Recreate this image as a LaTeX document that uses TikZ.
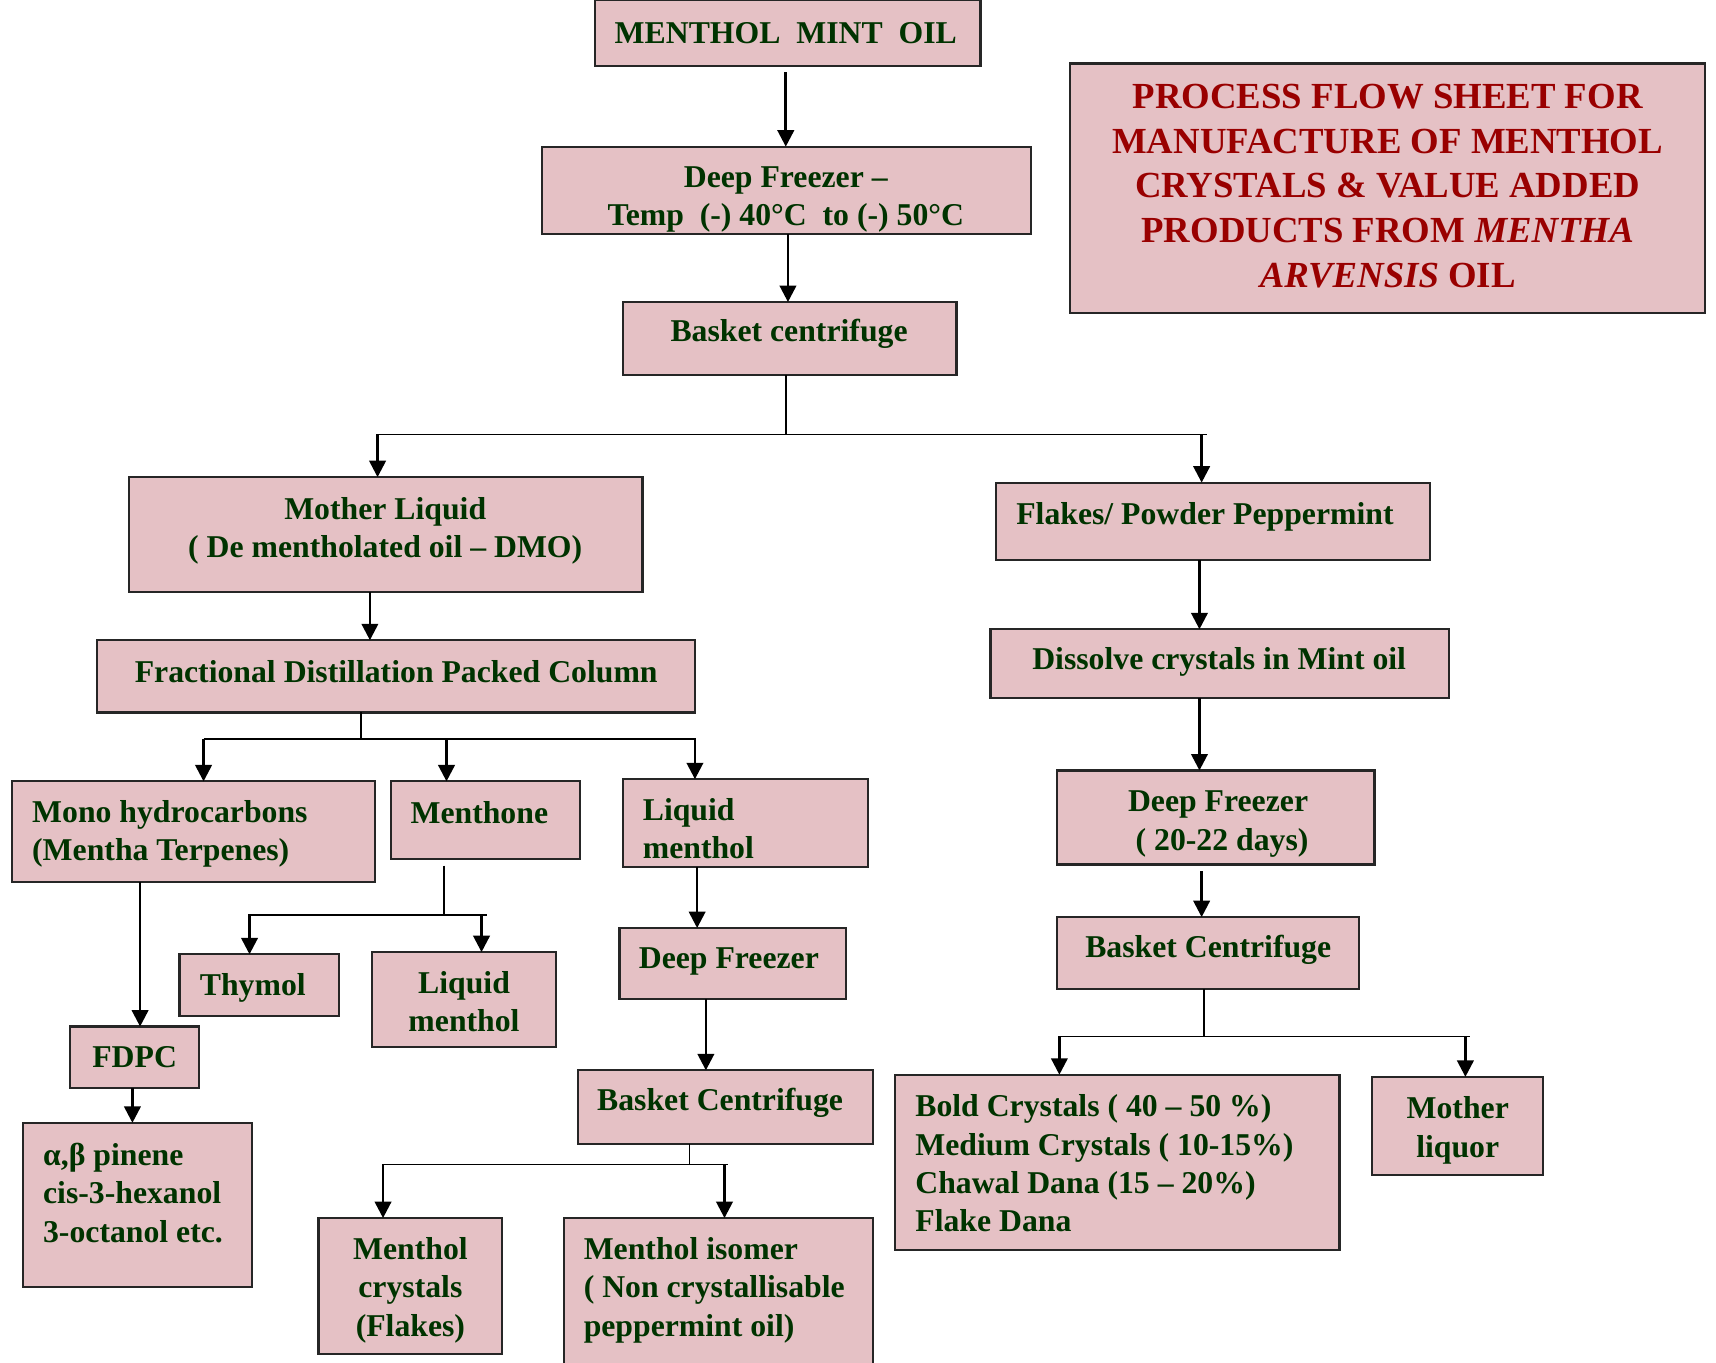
\documentclass[tikz,border=0pt]{standalone}
\usepackage{fontspec}
\setmainfont{Liberation Serif}
\usetikzlibrary{arrows.meta,fit}
\definecolor{boxpink}{RGB}{229,193,197}
\definecolor{leafgreen}{RGB}{0,51,0}
\definecolor{titlered}{RGB}{153,0,0}
\tikzset{
  box/.style={draw=black!85, line width=1pt, fill=boxpink, inner sep=0pt, outer sep=0pt},
  tx/.style={text=leafgreen, font=\bfseries\fontsize{14.5}{17.5}\selectfont, inner sep=0pt, align=center},
  txl/.style={tx, align=left, anchor=west},
  ttl/.style={text=titlered, font=\bfseries\fontsize{16.8}{20.5}\selectfont, inner sep=0pt, align=center},
  arr/.style={line width=1.2pt, -{Triangle[length=7.5pt,width=7.5pt]}},
  bus/.style={line width=0.8pt},
}
\begin{document}
\begin{tikzpicture}[x=0.5pt,y=-0.5pt]
\useasboundingbox (0,0) rectangle (1568,1245);

% ---- boxes ----
\node[box, fit={(544,0) (896,60)}]        (oil) {};
\node[box, fit={(495,134) (942,214)}]     (df1) {};
\node[box, fit={(569,276) (874,343)}]     (bc1) {};
\node[box, fit={(978,58) (1558,286)}]     (title) {};
\node[box, fit={(118,436) (587,541)}]     (mother) {};
\node[box, fit={(910,441) (1307,512)}]    (flakes) {};
\node[box, fit={(89,585) (635,651)}]      (frac) {};
\node[box, fit={(905,575) (1324,638)}]    (dissolve) {};
\node[box, fit={(11,714) (343,806)}]      (mono) {};
\node[box, fit={(357,714) (530,785)}]     (menthone) {};
\node[box, fit={(569,712) (793,792)}]     (liqm2) {};
\node[box, fit={(966,704) (1256,790)}]    (df3) {};
\node[box, fit={(164,872) (310,928)}]     (thymol) {};
\node[box, fit={(340,870) (508,957)}]     (liqm1) {};
\node[box, fit={(566,848) (773,913)}]     (df2) {};
\node[box, fit={(966,838) (1242,904)}]    (bc3) {};
\node[box, fit={(64,938) (182,994)}]      (fdpc) {};
\node[box, fit={(528,978) (798,1045)}]    (bc2) {};
\node[box, fit={(21,1026) (230,1176)}]    (pinene) {};
\node[box, fit={(818,982) (1224,1142)}]   (bold) {};
\node[box, fit={(1254,984) (1410,1074)}]  (liquor) {};
\node[box, fit={(291,1113) (459,1237)}]   (mcryst) {};
\node[box, fit={(515,1113) (798,1262)}]   (misomer) {};

% ---- texts ----
\node[tx] (oil-t) at (718,30) {MENTHOL~ MINT~ OIL};
\node[tx] (df1-t) at (718,182) {Deep Freezer –\\Temp~ (-) 40°C~ to (-) 50°C};
\node[tx] (bc1-t) at (721,305) {Basket centrifuge};
\node[ttl] (title-t) at (1268,170) {PROCESS FLOW SHEET FOR\\MANUFACTURE OF MENTHOL\\CRYSTALS \& VALUE ADDED\\PRODUCTS FROM \textit{MENTHA}\\\textit{ARVENSIS} OIL};
\node[tx] (mother-t) at (352,485) {Mother Liquid\\( De mentholated oil – DMO)};
\node[tx] (flakes-t) at (1101,472) {Flakes/ Powder Peppermint};
\node[tx] (frac-t) at (362,614) {Fractional Distillation Packed Column};
\node[tx] (dissolve-t) at (1114,605) {Dissolve crystals in Mint oil};
\node[txl] (mono-t) at (29,762) {Mono hydrocarbons\\(Mentha Terpenes)};
\node[tx] (menthone-t) at (438,743) {Menthone};
\node[txl] (liqm2-t) at (587,757) {Liquid\\menthol};
\node[tx] (df3-t) at (1113,753) {Deep Freezer\\~( 20-22 days)};
\node[tx] (thymol-t) at (231,903) {Thymol};
\node[tx] (liqm1-t) at (424,915) {Liquid\\menthol};
\node[tx] (df2-t) at (666,879) {Deep Freezer};
\node[tx] (bc3-t) at (1104,868) {Basket Centrifuge};
\node[tx] (fdpc-t) at (123,966) {FDPC};
\node[tx] (bc2-t) at (658,1008) {Basket Centrifuge};
\node[txl] (pinene-t) at (39,1090) {α,β pinene\\cis-3-hexanol\\3-octanol etc.};
\node[txl] (bold-t) at (836,1063) {Bold Crystals ( 40 – 50 \%)\\Medium Crystals ( 10-15\%)\\Chawal Dana (15 – 20\%)\\Flake Dana};
\node[tx] (liquor-t) at (1332,1033) {Mother\\liquor};
\node[tx] (mcryst-t) at (375,1179) {Menthol\\crystals\\(Flakes)};
\node[txl] (misomer-t) at (533,1179) {Menthol isomer\\( Non crystallisable\\peppermint oil)};

% ---- main line ----
\draw[arr, shorten <=3pt] (718,0 |- oil.south) -- (718,0 |- df1.north);
\draw[arr] (720,0 |- df1.south) -- (720,0 |- bc1.north);

% split after the first centrifuge
\coordinate (j1)  at (718,397);
\coordinate (j1l) at (345,397);
\coordinate (j1r) at (1103,397);
\coordinate (j1b) at (1098,397);
\draw[bus] (j1 |- bc1.south) -- (j1);
\draw[bus] (j1l) -- (j1r);
\draw[arr] (j1l) -- (j1l |- mother.north);
\draw[arr] (j1b) -- (j1b |- flakes.north);

% ---- left branch ----
\draw[arr] (338,0 |- mother.south) -- (338,0 |- frac.north);
\coordinate (j2)  at (330,675);
\coordinate (j2l) at (186,675);
\coordinate (j2m) at (408,675);
\coordinate (j2r) at (636,675);
\coordinate (j2c) at (635,675);
\draw[bus] (j2 |- frac.south) -- (j2);
\draw[bus] (j2l) -- (j2r);
\draw[arr] (j2l) -- (j2l |- mono.north);
\draw[arr] (j2m) -- (j2m |- menthone.north);
\draw[arr] (j2c) -- (j2c |- liqm2.north);

% menthone products
\coordinate (j3)  at (406,836);
\coordinate (j3l) at (227,836);
\coordinate (j3a) at (228,836);
\coordinate (j3r) at (445,836);
\coordinate (j3b) at (440,836);
\draw[bus, shorten <=3pt] (j3 |- menthone.south) -- (j3);
\draw[bus] (j3l) -- (j3r);
\draw[arr] (j3a) -- (j3a |- thymol.north);
\draw[arr] (j3b) -- (j3b |- liqm1.north);

% terpenes
\draw[arr] (128,0 |- mono.south) -- (128,0 |- fdpc.north);
\draw[arr] (121,0 |- fdpc.south) -- (121,0 |- pinene.north);

% liquid menthol crystallisation
\draw[arr] (637,0 |- liqm2.south) -- (637,0 |- df2.north);
\draw[arr] (645,0 |- df2.south) -- (645,0 |- bc2.north);
\coordinate (j4)  at (630,1064);
\coordinate (j4l) at (349,1064);
\coordinate (j4a) at (350,1064);
\coordinate (j4r) at (665,1064);
\coordinate (j4b) at (662,1064);
\draw[bus] (j4 |- bc2.south) -- (j4);
\draw[bus] (j4l) -- (j4r);
\draw[arr] (j4a) -- (j4a |- mcryst.north);
\draw[arr] (j4b) -- (j4b |- misomer.north);

% ---- right branch ----
\draw[arr] (1096,0 |- flakes.south) -- (1096,0 |- dissolve.north);
\draw[arr] (1096,0 |- dissolve.south) -- (1096,0 |- df3.north);
\draw[arr, shorten <=3pt] (1098,0 |- df3.south) -- (1098,0 |- bc3.north);
\coordinate (j5)  at (1100,947);
\coordinate (j5l) at (968,947);
\coordinate (j5r) at (1343,947);
\coordinate (j5b) at (1339,947);
\draw[bus] (j5 |- bc3.south) -- (j5);
\draw[bus] (j5l) -- (j5r);
\draw[arr] (j5l) -- (j5l |- bold.north);
\draw[arr] (j5b) -- (j5b |- liquor.north);
\end{tikzpicture}
\end{document}
